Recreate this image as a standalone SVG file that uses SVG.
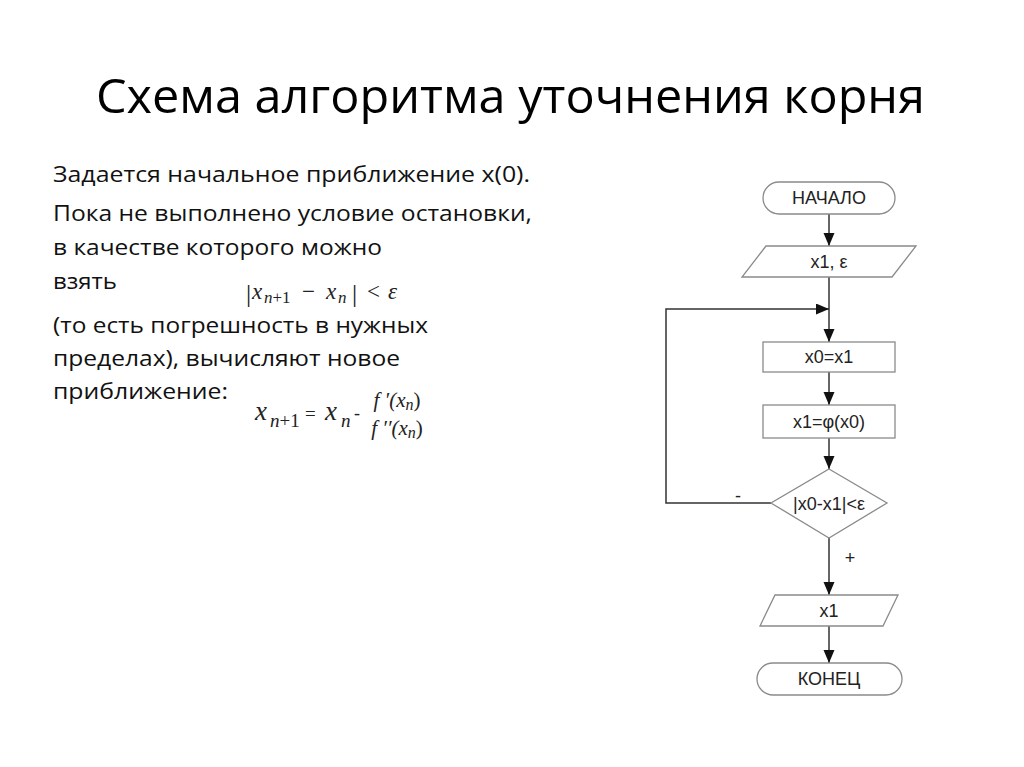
<svg xmlns="http://www.w3.org/2000/svg" width="1024" height="767" viewBox="0 0 1024 767">
<style>
.title{font-family:"Open Sans","Liberation Sans",sans-serif;font-size:48px;fill:#000}
.body{font-family:"Open Sans","Liberation Sans",sans-serif;font-size:21px;fill:#111}
.math{font-family:"Liberation Serif","DejaVu Serif",serif;font-style:italic;fill:#222}
.up{font-style:normal}
.shape{fill:#fff;stroke:#8a8a8a;stroke-width:1.3}
.lbl{font-family:"Liberation Sans",Arial,sans-serif;font-size:18px;fill:#222;text-anchor:middle}
.conn{fill:none;stroke:#333;stroke-width:1.5}
</style>
<defs>
<marker id="arr" markerUnits="userSpaceOnUse" markerWidth="14" markerHeight="12" refX="13" refY="5.5" orient="auto">
<path d="M0,0 L13,5.5 L0,11 z" fill="#111"/>
</marker>
</defs>
<rect width="1024" height="767" fill="#fff"/>
<text class="title" x="96" y="113" textLength="829" lengthAdjust="spacingAndGlyphs">Схема алгоритма уточнения корня</text>
<g id="text">
<text class="body" x="53" y="182" textLength="477" lengthAdjust="spacingAndGlyphs">Задается начальное приближение x(0).</text>
<text class="body" x="53" y="221" textLength="479" lengthAdjust="spacingAndGlyphs">Пока не выполнено условие остановки,</text>
<text class="body" x="53" y="255" textLength="329" lengthAdjust="spacingAndGlyphs">в качестве которого можно</text>
<text class="body" x="53" y="289" textLength="64" lengthAdjust="spacingAndGlyphs">взять</text>
<text class="body" x="53" y="333" textLength="375" lengthAdjust="spacingAndGlyphs">(то есть погрешность в нужных</text>
<text class="body" x="53" y="366" textLength="347" lengthAdjust="spacingAndGlyphs">пределах), вычисляют новое</text>
<text class="body" x="53" y="399" textLength="175" lengthAdjust="spacingAndGlyphs">приближение:</text>
</g>
<g id="formula1" class="math" font-size="23">
<text class="up" x="246" y="302" font-size="26">|</text>
<text x="252" y="299">x</text>
<text x="264" y="303" font-size="17">n<tspan class="up">+1</tspan></text>
<text class="up" x="302" y="299">−</text>
<text x="326" y="299">x</text>
<text x="338" y="303" font-size="17">n</text>
<text class="up" x="352" y="302" font-size="26">|</text>
<text class="up" x="367" y="299">&lt;</text>
<text x="388" y="299">ε</text>
</g>
<g id="formula2" class="math">
<text x="255" y="420" font-size="27">x</text>
<text x="270" y="427" font-size="19">n<tspan class="up">+1</tspan></text>
<text class="up" x="305" y="420" font-size="19">=</text>
<text x="325" y="420" font-size="27">x</text>
<text x="341" y="427" font-size="19">n</text>
<text class="up" x="354" y="419" font-size="18">-</text>
<text x="397" y="407" font-size="21" text-anchor="middle">f ′(x<tspan font-size="16" dy="3">n</tspan><tspan dy="-3" class="up">)</tspan></text>
<text x="397" y="435" font-size="21" text-anchor="middle">f ′′(x<tspan font-size="16" dy="3">n</tspan><tspan dy="-3" class="up">)</tspan></text>
</g>
<g id="connectors">
<line class="conn" x1="829" y1="214" x2="829" y2="246" marker-end="url(#arr)"/>
<line class="conn" x1="829" y1="277" x2="829" y2="342" marker-end="url(#arr)"/>
<polyline class="conn" points="771,503 666,503 666,309 829,309" marker-end="url(#arr)"/>
<line class="conn" x1="829" y1="372" x2="829" y2="405" marker-end="url(#arr)"/>
<line class="conn" x1="829" y1="438" x2="829" y2="469" marker-end="url(#arr)"/>
<line class="conn" x1="829" y1="538" x2="829" y2="595" marker-end="url(#arr)"/>
<line class="conn" x1="829" y1="626" x2="829" y2="663" marker-end="url(#arr)"/>
<text class="lbl" x="738" y="502" font-size="16">-</text>
<text class="lbl" x="850" y="564" font-size="16">+</text>
</g>
<g id="start">
<rect class="shape" x="763" y="182" width="132" height="32" rx="16"/>
<text class="lbl" x="829" y="204">НАЧАЛО</text>
</g>
<g id="input">
<polygon class="shape" points="766,246 916,246 892,277 742,277"/>
<text class="lbl" x="829" y="268">x1, ε</text>
</g>
<g id="assign1">
<rect class="shape" x="763" y="342" width="132" height="30"/>
<text class="lbl" x="829" y="363">x0=x1</text>
</g>
<g id="assign2">
<rect class="shape" x="763" y="405" width="132" height="33"/>
<text class="lbl" x="829" y="428">x1=φ(x0)</text>
</g>
<g id="decision">
<polygon class="shape" points="829,469 887,503 829,538 771,503"/>
<text class="lbl" x="829" y="510">|x0-x1|&lt;ε</text>
</g>
<g id="output">
<polygon class="shape" points="775,595 898,595 883,626 760,626"/>
<text class="lbl" x="829" y="617">x1</text>
</g>
<g id="end">
<rect class="shape" x="757" y="663" width="145" height="32" rx="16"/>
<text class="lbl" x="829" y="685">КОНЕЦ</text>
</g>
</svg>
